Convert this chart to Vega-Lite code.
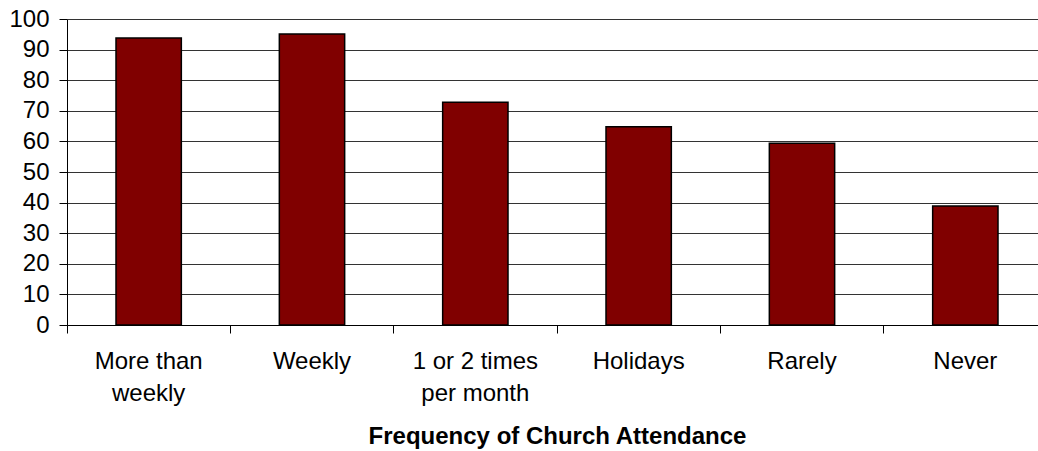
{
  "$schema": "https://vega.github.io/schema/vega-lite/v6.json",
  "width": 980,
  "height": 306,
  "autosize": "none",
  "padding": {"left": 67, "top": 19, "right": 0, "bottom": 126},
  "background": "white",
  "data": {
    "values": [
      {"attendance": "More than weekly", "value": 93.8},
      {"attendance": "Weekly", "value": 95.1},
      {"attendance": "1 or 2 times per month", "value": 72.8},
      {"attendance": "Holidays", "value": 64.8},
      {"attendance": "Rarely", "value": 59.4},
      {"attendance": "Never", "value": 38.9}
    ]
  },
  "mark": {"type": "bar", "color": "#800000", "stroke": "#000000", "strokeWidth": 1.5, "width": {"band": 0.4}},
  "encoding": {
    "x": {
      "field": "attendance",
      "type": "nominal",
      "sort": null,
      "scale": {"paddingInner": 0, "paddingOuter": 0},
      "axis": {
        "title": "Frequency of Church Attendance",
        "titleFont": "Liberation Sans",
        "titleFontSize": 24,
        "titleFontWeight": "bold",
        "titleColor": "#000000",
        "titlePadding": 19,
        "labelFont": "Liberation Sans",
        "labelFontSize": 24,
        "labelColor": "#000000",
        "labelAngle": 0,
        "labelLineHeight": 32,
        "labelPadding": 16,
        "bandPosition": 0,
        "ticks": true,
        "tickSize": 8,
        "tickColor": "#000000",
        "domainColor": "#000000",
        "grid": false,
        "labelExpr": "datum.value == 'More than weekly' ? ['More than', 'weekly'] : datum.value == '1 or 2 times per month' ? ['1 or 2 times', 'per month'] : datum.value"
      }
    },
    "y": {
      "field": "value",
      "type": "quantitative",
      "scale": {"domain": [0, 100]},
      "axis": {
        "title": null,
        "values": [0, 10, 20, 30, 40, 50, 60, 70, 80, 90, 100],
        "grid": true,
        "gridColor": "#333333",
        "gridWidth": 1,
        "domainColor": "#000000",
        "tickColor": "#000000",
        "tickSize": 8,
        "labelFont": "Liberation Sans",
        "labelFontSize": 24,
        "labelColor": "#000000",
        "labelPadding": 10
      }
    }
  },
  "config": {"view": {"stroke": null}}
}
